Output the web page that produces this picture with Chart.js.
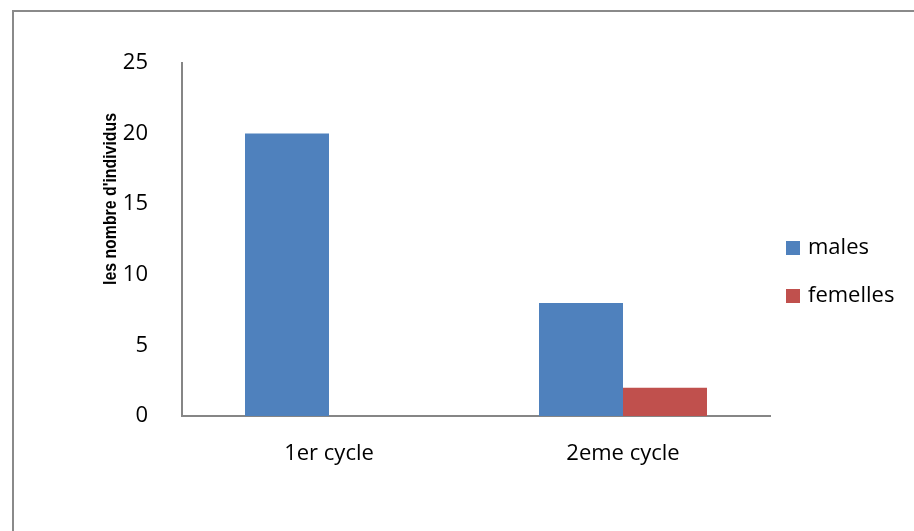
<!DOCTYPE html>
<html>
<head>
<meta charset="utf-8">
<script src="https://cdn.jsdelivr.net/npm/chart.js@4.4.0/dist/chart.umd.min.js"></script>
<style>
  html, body { margin:0; padding:0; background:#fff; }
  #wrap { position:relative; width:914px; height:531px; overflow:hidden; }
  #frame { position:absolute; left:12px; top:10px; width:1000px; height:600px;
           border-top:2px solid #8a8a8a; border-left:2px solid #8a8a8a; pointer-events:none; }
  canvas { position:absolute; left:0; top:0; }
</style>
</head>
<body>
<div id="wrap">
  <canvas id="chart" width="914" height="531"></canvas>
  <div id="frame"></div>
</div>
<script>
// counts per cycle
const cycles = ['1er cycle', '2eme cycle'];
const males = [20, 8];
const femelles = [0, 2];
const yTicks = [0, 5, 10, 15, 20, 25];
const yTitle = "les nombre d'individus";

const fontFam = "'Open Sans', sans-serif";
const axisGrey = '#868686';

// rotated axis title + side legend, placed like the office chart
const extras = {
  id: 'extras',
  afterDraw(chart){
    const ctx = chart.ctx;
    ctx.save();
    ctx.fillStyle = '#000';
    ctx.font = "bold 19px 'Liberation Sans Narrow', 'Liberation Sans', sans-serif";
    ctx.textAlign = 'center';
    ctx.textBaseline = 'middle';
    ctx.translate(111, 199);
    ctx.rotate(-Math.PI/2);
    // keep the title to its 172px run
    const w = ctx.measureText(yTitle).width;
    if (w > 172) ctx.scale(172 / w, 1);
    ctx.fillText(yTitle, 0, 0);
    ctx.restore();

    ctx.save();
    ctx.font = '22px ' + fontFam;
    ctx.textBaseline = 'middle';
    chart.data.datasets.forEach((ds, i) => {
      const cy = 248 + i*48;
      ctx.fillStyle = ds.backgroundColor;
      ctx.fillRect(786, cy-7, 14, 14);
      ctx.fillStyle = '#000';
      ctx.fillText(ds.label, 808, cy);
    });
    ctx.restore();
  }
};

new Chart(document.getElementById('chart'), {
  type: 'bar',
  data: {
    labels: cycles,
    datasets: [
      { label: 'males', data: males, backgroundColor: '#4F81BD' },
      { label: 'femelles', data: femelles, backgroundColor: '#C0504D' }
    ]
  },
  options: {
    responsive: false,
    animation: false,
    layout: { padding: { top: 63, right: 144, bottom: 0, left: 0 } },
    datasets: { bar: { categoryPercentage: 0.5714, barPercentage: 1, borderWidth: 0 } },
    plugins: { legend: { display: false }, tooltip: { enabled: false } },
    scales: {
      x: {
        grid: { display: false },
        border: { display: true, color: axisGrey, width: 2 },
        ticks: { color: '#000', font: { family: fontFam, size: 22 }, padding: 17, maxRotation: 0 },
        afterFit(s){ s.height = 115; }
      },
      y: {
        min: 0, max: 25,
        afterBuildTicks(s){ s.ticks = yTicks.map(v => ({ value: v })); },
        grid: { display: false },
        border: { display: true, color: axisGrey, width: 2 },
        ticks: { color: '#000', font: { family: fontFam, size: 22 }, padding: 26 },
        afterFit(s){ s.width = 182; }
      }
    }
  },
  plugins: [extras]
});
</script>
</body>
</html>
